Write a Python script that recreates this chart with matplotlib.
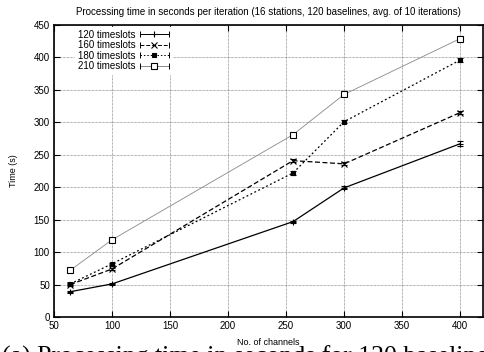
import matplotlib
matplotlib.use("Agg")
import matplotlib.pyplot as plt
from matplotlib.lines import Line2D
from matplotlib.legend_handler import HandlerBase

plt.rcParams["font.family"] = ["Liberation Sans", "DejaVu Sans"]

channels = [64, 100, 256, 300, 400]
series_labels = ["120 timeslots", "160 timeslots", "180 timeslots", "210 timeslots"]
t120 = [39, 51, 147, 199, 267]
t160 = [50, 74, 241, 236, 315]
t180 = [51, 82, 222, 301, 396]
t210 = [72, 119, 281, 343, 429]
err120 = [1.5, 1.5, 1.5, 2.5, 3.5]
err160 = [1.5, 2.0, 2.5, 2.5, 2.5]
err180 = [1.5, 2.0, 2.5, 2.5, 2.5]
err210 = [1.5, 2.0, 2.5, 3.0, 4.0]

xticks = [50, 100, 150, 200, 250, 300, 350, 400]
yticks = [0, 50, 100, 150, 200, 250, 300, 350, 400, 450]

STYLES = [
    dict(color="black", linestyle="-", linewidth=0.9, marker="+", ms=5, mfc="none"),
    dict(color="black", linestyle=(0, (4, 2)), linewidth=0.9, marker="x", ms=4, mfc="none"),
    dict(color="black", linestyle=(0, (1.5, 2)), linewidth=0.9, marker="s", ms=3, mfc="black"),
    dict(color="#888888", linestyle="-", linewidth=0.6, marker="s", ms=4.5, mfc="white"),
]


class CapHandler(HandlerBase):
    """gnuplot-like key sample: line with end caps and marker in the middle"""

    def create_artists(self, legend, orig_handle, xdescent, ydescent,
                       width, height, fontsize, trans):
        st = orig_handle
        y = height / 2 - ydescent
        x0, x1 = -xdescent, -xdescent + width
        line = Line2D([x0, x1], [y, y], color=st["color"], linestyle=st["linestyle"],
                      linewidth=0.7, transform=trans)
        caps = Line2D([x0, x1], [y, y], linestyle="none", marker="|", ms=5,
                      color="black", mew=0.7, transform=trans)
        mk = Line2D([(x0 + x1) / 2], [y], linestyle="none", marker=st["marker"],
                    ms=st["ms"], mfc=st["mfc"], mec="black", mew=0.8, transform=trans)
        return [line, caps, mk]


fig = plt.figure(figsize=(4.84, 3.52), dpi=100)
ax = fig.add_axes([0.1116, 0.0994, 0.887, 0.8296])

data = [(t120, err120), (t160, err160), (t180, err180), (t210, err210)]
for (vals, errs), st, lab in zip(data, STYLES, series_labels):
    ax.errorbar(channels, vals, yerr=errs, color=st["color"], linestyle=st["linestyle"],
                linewidth=st["linewidth"], marker=st["marker"], ms=st["ms"],
                mfc=st["mfc"], mec="black", mew=0.8, ecolor="black", elinewidth=0.7,
                capsize=2, capthick=0.7, label=lab, zorder=3)

ax.set_xlim(50, 420)
ax.set_ylim(0, 450)
ax.set_xticks(xticks)
ax.set_yticks(yticks)
ax.tick_params(direction="in", length=4, width=0.8, labelsize=7, top=True, right=True, pad=3)
ax.grid(True, color="#666666", linestyle=(0, (1, 1)), linewidth=0.5)
for sp in ax.spines.values():
    sp.set_linewidth(1.2)

ax.set_xlabel("No. of channels", fontsize=6.5, labelpad=5)
ax.set_ylabel("Time (s)", fontsize=6.5, labelpad=11)
ax.set_title("Processing time in seconds per iteration (16 stations, 120 baselines, avg. of 10 iterations)",
             fontsize=7, pad=7)

leg = ax.legend(STYLES, series_labels, handler_map={dict: CapHandler()},
                loc="upper left", bbox_to_anchor=(0.045, 1.0), markerfirst=False,
                frameon=True, fontsize=7, handlelength=3.0, handletextpad=0.4,
                labelspacing=0.05, borderpad=0.3, borderaxespad=0.2)
leg.get_frame().set_edgecolor("white")
leg.get_frame().set_facecolor("white")
leg.get_frame().set_alpha(1.0)
leg.get_frame().set_boxstyle("square", pad=0)

# figure caption from the paper, cut off by the bottom edge
fig.text(0.005, -0.034, "(a) Processing time in seconds for 120 baselines",
         fontsize=18.5, family=["Liberation Serif", "DejaVu Serif"], va="baseline", ha="left")

fig.savefig("out.png", dpi=100)
